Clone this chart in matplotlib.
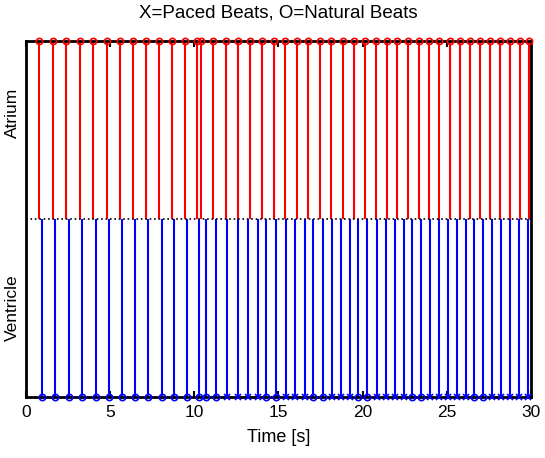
import numpy as np
import matplotlib
matplotlib.use("Agg")
from matplotlib import pyplot as plt

plt.rcParams['font.family'] = ['Liberation Sans', 'DejaVu Sans']

# atrial beat times [s] (all natural)
atrium_t = [0.79, 1.59, 2.39, 3.21, 4.00, 4.79, 5.57, 6.34, 7.13, 7.90, 8.67, 9.43,
            10.18, 10.40, 11.13, 11.87, 12.58, 13.29, 14.00, 14.72, 15.41, 16.08,
            16.77, 17.47, 18.14, 18.82, 19.48, 20.14, 20.80, 21.43, 22.06, 22.70,
            23.33, 23.95, 24.57, 25.17, 25.79, 26.38, 26.98, 27.57, 28.16, 28.76,
            29.33, 29.90]

# ventricular beat times [s] and whether paced
vent_t = [0.93, 1.72, 2.55, 3.33, 4.16, 4.93, 5.70, 6.48, 7.27, 8.06, 8.79, 9.55,
          10.25, 10.67, 11.27, 11.92, 12.61, 13.21, 13.80, 14.26, 14.84,
          15.45, 15.98, 16.56, 17.03, 17.63, 18.16, 18.72, 19.25, 19.72, 20.24,
          20.83, 21.39, 21.92, 22.48, 22.92, 23.47, 24.00, 24.54, 25.05, 25.59,
          26.14, 26.62, 27.13, 27.67, 28.22, 28.76, 29.29, 29.85]
vent_paced = [0, 0, 0, 0, 0, 0, 0, 0, 0, 0, 0, 0,
              0, 0, 0, 1, 1, 1, 1, 0, 0,
              1, 1, 1, 0, 0, 1, 1, 1, 0, 0,
              1, 1, 1, 1, 0, 0, 1, 1, 1, 1,
              1, 0, 0, 1, 1, 1, 1, 1]

vent_t = np.array(vent_t)
vent_paced = np.array(vent_paced, dtype=bool)

fig = plt.figure(figsize=(5.45, 4.58), dpi=100)
ax = fig.add_axes([0.048, 0.133, 0.926, 0.777])

ax.vlines(atrium_t, 0.5, 1, color="red", lw=1.5)
ax.plot(atrium_t, np.ones(len(atrium_t)), "o", mfc="none", mec="red", ms=4.5, mew=1.2, clip_on=False, zorder=5)

ax.vlines(vent_t, 0, 0.5, color="blue", lw=1.5)
ax.plot(vent_t[~vent_paced], np.zeros((~vent_paced).sum()), "o", mfc="none", mec="blue", ms=4.5, mew=1.2, clip_on=False, zorder=5)
ax.plot(vent_t[vent_paced], np.zeros(vent_paced.sum()), "x", color="blue", ms=4.5, mew=1.2, clip_on=False, zorder=5)

ax.plot([0, 30], [0.5, 0.5], ":", color="black", lw=1.2)

ax.set_xlim(0, 30)
ax.set_ylim(0, 1)
ax.set_xticks([0, 5, 10, 15, 20, 25, 30])
ax.set_yticks([])
ax.text(-0.012, 0.8, "Atrium", transform=ax.transAxes, rotation=90, ha="right", va="center", fontsize=12.5)
ax.text(-0.012, 0.25, "Ventricle", transform=ax.transAxes, rotation=90, ha="right", va="center", fontsize=12.5)
ax.tick_params(axis="x", direction="in", top=True, length=4, width=1.5, labelsize=12.5, pad=6)
for s in ax.spines.values():
    s.set_linewidth(2)

ax.set_xlabel("Time [s]", fontsize=13, labelpad=6)
ax.set_title("X=Paced Beats, O=Natural Beats", fontsize=13.5, pad=17)

plt.savefig("out.png", dpi=100)
